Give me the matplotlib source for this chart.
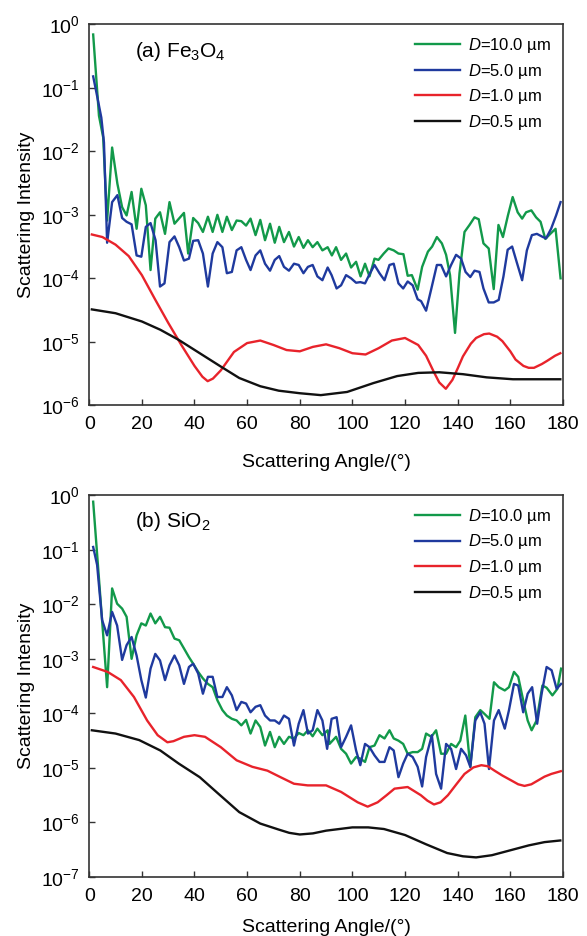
import numpy as np
import matplotlib
matplotlib.use("Agg")
import matplotlib.pyplot as plt
from matplotlib.ticker import LogLocator, NullLocator

plt.rcParams['font.family'] = ['Liberation Sans', 'DejaVu Sans']
plt.rcParams['mathtext.fontset'] = 'custom'
plt.rcParams['mathtext.rm'] = 'Liberation Sans'
plt.rcParams['mathtext.it'] = 'Liberation Sans:italic'

labels = [r'$\it{D}$=10.0 µm', r'$\it{D}$=5.0 µm', r'$\it{D}$=1.0 µm', r'$\it{D}$=0.5 µm']
colors = ['#12994a', '#1f3a9e', '#e8232b', '#111111']

# ---- (a) Fe3O4 : angle (deg) and log10(intensity) ----
fe_g_x = [1.5, 3.7, 5.3, 6.8, 8.7, 10.7, 12.5, 14.2, 16.1, 18, 19.8, 21.5, 23.3, 25.1, 26.9,
          28.8, 30.5, 32.4, 36, 37.6, 39.5, 41.4, 43.2, 45.1, 46.9, 48.7, 50.6, 52.3, 54.2,
          56, 57.8, 59.6, 61.3, 63.2, 65, 66.8, 68.7, 70.5, 72.2, 74, 75.9, 77.8, 79.6, 81.4,
          83.1, 84.9, 86.7, 88.6, 90.6, 92.2, 93.8, 95.7, 97.6, 99.5, 101.4, 103.1, 104.8,
          106.5, 108.4, 109.9, 111.9, 113.7, 115.7, 117.5, 119.4, 121, 122.6, 124.8, 126.5,
          128.7, 130.3, 132.1, 134, 135.6, 137.1, 139, 140.7, 142.6, 144.5, 146.4, 148,
          149.8, 151.8, 153.7, 155.5, 157.2, 159.1, 160.9, 162.8, 164.5, 166, 168, 169.8,
          171.5, 173.3, 175.2, 177.2, 179.1]
fe_g_y = [-0.16, -1.44, -1.78, -3.09, -1.94, -2.51, -2.88, -3.01, -2.64, -3.22, -2.59, -2.85,
          -3.87, -3.06, -2.96, -3.30, -2.80, -3.14, -2.97, -3.61, -3.05, -3.13, -3.27, -3.03,
          -3.27, -3.00, -3.27, -3.03, -3.24, -3.09, -3.10, -3.17, -3.06, -3.32, -3.08, -3.40,
          -3.14, -3.44, -3.19, -3.43, -3.27, -3.50, -3.35, -3.52, -3.40, -3.51, -3.43, -3.56,
          -3.51, -3.64, -3.51, -3.71, -3.61, -3.83, -3.74, -3.97, -3.77, -3.97, -3.69, -3.71,
          -3.61, -3.53, -3.56, -3.61, -3.62, -3.96, -3.95, -4.18, -3.82, -3.58, -3.50, -3.35,
          -3.45, -3.63, -3.95, -4.86, -3.92, -3.27, -3.16, -3.04, -3.07, -3.45, -3.53, -4.17,
          -3.16, -3.35, -3.01, -2.72, -2.96, -3.06, -2.96, -2.93, -3.04, -3.11, -3.38, -3.30,
          -3.22, -4.00]

fe_b_x = [1.5, 3.0, 4.6, 5.6, 6.8, 8.7, 10.7, 12.5, 14.2, 16.1, 18, 19.8, 21.5, 23.3, 25.2,
          26.9, 28.6, 30.5, 32.4, 34.2, 36, 37.9, 39.5, 41.4, 43.2, 45.1, 46.9, 48.7, 50.6,
          52.3, 54.2, 56, 57.8, 59.6, 61.3, 63.2, 65, 66.8, 68.7, 70.5, 72.2, 74, 75.9, 77.8,
          79.6, 81.4, 83.1, 84.9, 86.7, 88.6, 90.6, 92.1, 94, 95.7, 97.6, 99.5, 101.4, 103,
          104.8, 106.7, 108.4, 110.3, 112.2, 114.1, 115.7, 117.5, 119.3, 121, 122.9, 124.8,
          126.1, 128, 129.9, 132.1, 133.7, 135.6, 137.5, 139.4, 141.3, 143, 144.8, 146.4,
          148.3, 149.8, 151.8, 153.7, 155.6, 157.4, 159, 160.7, 162.4, 164.5, 166.3, 168.2,
          170.1, 172.4, 173.6, 175.5, 177.4, 179.1]
fe_b_y = [-0.82, -1.13, -1.47, -1.86, -3.44, -2.80, -2.69, -3.05, -3.11, -3.15, -3.64, -3.66,
          -3.19, -3.13, -3.40, -4.13, -4.08, -3.43, -3.34, -3.51, -3.72, -3.69, -3.41, -3.40,
          -3.61, -4.13, -3.61, -3.43, -3.51, -3.92, -3.90, -3.56, -3.51, -3.71, -3.87, -3.64,
          -3.56, -3.77, -3.88, -3.71, -3.65, -3.82, -3.88, -3.77, -3.79, -3.92, -3.82, -3.79,
          -3.97, -4.03, -3.83, -3.95, -4.16, -4.11, -3.95, -4.00, -4.07, -4.06, -4.08, -3.92,
          -3.79, -3.92, -4.03, -3.79, -3.77, -4.08, -4.16, -4.05, -4.11, -4.33, -4.36, -4.51,
          -4.18, -3.79, -3.79, -3.97, -3.79, -3.63, -3.69, -3.90, -3.98, -3.88, -3.90, -4.16,
          -4.38, -4.38, -4.34, -3.97, -3.55, -3.50, -3.74, -4.03, -3.56, -3.32, -3.30, -3.35,
          -3.37, -3.22, -3.01, -2.80]

fe_r_x = [1, 5, 10, 15, 20, 25, 30, 35, 40, 43, 45, 47, 50, 55, 60, 65, 70, 75, 80, 85, 90,
          95, 100, 105, 110, 115, 120, 125, 128, 131, 133, 135.5, 138, 140, 142, 145, 147,
          150, 152, 155, 157, 160, 162, 165, 167, 169, 172, 174, 177, 179]
fe_r_y = [-3.31, -3.35, -3.47, -3.65, -3.95, -4.33, -4.70, -5.05, -5.38, -5.55, -5.62, -5.58,
          -5.45, -5.16, -5.02, -4.98, -5.05, -5.13, -5.15, -5.08, -5.04, -5.10, -5.18, -5.20,
          -5.10, -4.98, -4.94, -5.05, -5.22, -5.48, -5.64, -5.74, -5.60, -5.42, -5.23, -5.03,
          -4.94, -4.88, -4.87, -4.92, -4.99, -5.15, -5.28, -5.38, -5.41, -5.41, -5.35, -5.30,
          -5.22, -5.18]

fe_k_x = [1, 10, 20, 27, 34, 42, 50, 57, 65, 72, 80, 88, 98, 108, 117, 125, 133, 142, 151,
          161, 170, 179]
fe_k_y = [-4.49, -4.55, -4.68, -4.81, -4.97, -5.18, -5.39, -5.57, -5.70, -5.77, -5.81, -5.84,
          -5.79, -5.65, -5.54, -5.49, -5.48, -5.51, -5.56, -5.59, -5.59, -5.59]

# ---- (b) SiO2 ----
si_g_x = [1.5, 6.8, 8.7, 10.6, 12.5, 14.2, 16.1, 18, 19.8, 21.5, 23.3, 25.1, 26.9, 28.8, 30.5,
          32.4, 34.2, 36, 37.9, 39.5, 41.4, 43.2, 45.1, 46.9, 48.7, 50.6, 52.3, 54.2, 56,
          57.8, 59.6, 61.3, 63.2, 65, 66.8, 68.7, 70.5, 72.2, 74, 75.9, 77.8, 79.6, 81.4,
          83.1, 84.9, 86.7, 88.6, 90.6, 91.3, 93.8, 95.7, 97.6, 99.5, 101.4, 103, 104.8,
          106.5, 108.4, 110.3, 112.2, 114.1, 115.7, 117.5, 119.3, 121, 122.9, 124.8, 126.5,
          128, 130, 131.8, 133.7, 135.6, 137.5, 139.4, 141, 142.9, 144.8, 146.7, 148.6,
          150.2, 152.1, 153.8, 155.6, 157.9, 159.5, 161.4, 163, 164.9, 166.6, 168.1, 170,
          172.2, 173.8, 176, 177.9, 179.3]
si_g_y = [-0.12, -3.52, -1.71, -1.99, -2.08, -2.23, -3.00, -2.57, -2.35, -2.39, -2.17, -2.35,
          -2.23, -2.42, -2.43, -2.63, -2.66, -2.81, -2.97, -3.09, -3.24, -3.36, -3.46, -3.52,
          -3.76, -3.94, -4.04, -4.10, -4.13, -4.22, -4.12, -4.37, -4.13, -4.25, -4.59, -4.34,
          -4.62, -4.43, -4.56, -4.43, -4.46, -4.36, -4.40, -4.31, -4.42, -4.28, -4.40, -4.31,
          -4.56, -4.43, -4.65, -4.74, -4.92, -4.80, -4.83, -4.89, -4.62, -4.59, -4.40, -4.46,
          -4.31, -4.46, -4.50, -4.56, -4.74, -4.71, -4.71, -4.65, -4.37, -4.43, -4.31, -4.74,
          -4.74, -4.56, -4.62, -4.50, -4.04, -4.98, -4.07, -3.94, -4.01, -4.10, -3.43, -3.52,
          -3.58, -3.52, -3.24, -3.33, -3.76, -4.13, -4.31, -4.13, -3.49, -3.53, -3.67, -3.55,
          -3.18]

si_b_x = [1.5, 3.0, 4.9, 6.8, 8.7, 10.6, 12.5, 14.2, 16.1, 18, 19.8, 21.5, 23.3, 25.1, 26.9,
          28.8, 30.5, 32.4, 34.2, 36, 37.9, 39.5, 41.4, 43.2, 45.1, 46.9, 48.7, 50.6, 52.3,
          54.2, 56, 57.8, 59.6, 61.3, 63.2, 65, 66.8, 68.7, 70.5, 72.2, 74, 75.9, 77.8, 79.6,
          81.4, 83.1, 84.9, 86.7, 88.6, 90.4, 92.1, 94, 95.7, 97.6, 99.5, 101.4, 103, 104.8,
          106.5, 108.4, 110.3, 112.2, 114.1, 115.7, 117.5, 119.3, 121, 122.9, 124.8, 126.5,
          128, 130.2, 131.8, 133.7, 135.6, 137.5, 139.4, 141.3, 143.2, 144.8, 146.7, 148.6,
          150.2, 151.9, 153.8, 155.6, 157.9, 159.5, 161.4, 163, 164.9, 166.6, 168.3, 170.2,
          171.9, 173.8, 175.7, 177.6, 179.3]
si_b_y = [-0.95, -1.28, -2.29, -2.57, -2.14, -2.39, -3.02, -2.75, -2.60, -2.94, -3.39, -3.71,
          -3.18, -2.91, -3.03, -3.39, -3.12, -2.94, -3.12, -3.46, -3.15, -3.09, -3.27, -3.64,
          -3.33, -3.33, -3.70, -3.70, -3.52, -3.67, -3.94, -3.79, -3.82, -3.98, -3.88, -3.85,
          -4.04, -4.13, -4.13, -4.19, -4.04, -4.10, -4.59, -4.19, -3.94, -4.37, -4.31, -3.94,
          -4.13, -4.65, -4.10, -4.07, -4.62, -4.43, -4.22, -4.68, -4.95, -4.56, -4.62, -4.77,
          -4.89, -4.89, -4.62, -4.68, -5.17, -4.92, -4.74, -4.80, -4.98, -5.34, -4.80, -4.40,
          -5.11, -5.38, -4.56, -4.65, -5.02, -4.65, -4.77, -4.98, -4.13, -3.98, -4.19, -5.02,
          -4.13, -3.94, -4.28, -3.94, -3.46, -3.49, -3.98, -3.64, -3.52, -4.19, -3.64, -3.15,
          -3.21, -3.55, -3.46]

si_r_x = [1.5, 7, 12, 17, 22, 26, 29.7, 32, 36, 40, 44, 50, 56, 62, 67.7, 72.7, 77.8, 83, 90,
          95.7, 99, 102, 105.8, 109.6, 113, 116, 121, 126, 128.5, 131, 133.5, 136.3, 139.5,
          142.6, 146, 149, 151.5, 154, 157, 160.4, 163, 165.4, 168, 170.5, 173, 175.6, 179.2]
si_r_y = [-3.15, -3.24, -3.39, -3.70, -4.13, -4.40, -4.53, -4.51, -4.43, -4.40, -4.43, -4.62,
          -4.86, -4.98, -5.05, -5.17, -5.29, -5.32, -5.32, -5.44, -5.54, -5.63, -5.71, -5.63,
          -5.50, -5.38, -5.35, -5.50, -5.60, -5.67, -5.63, -5.50, -5.30, -5.11, -4.99, -4.95,
          -4.97, -5.05, -5.14, -5.23, -5.30, -5.33, -5.30, -5.23, -5.16, -5.11, -5.06]

si_k_x = [1, 10, 19, 27, 34, 42, 49, 57, 65, 72, 76, 80, 85, 90, 100, 106, 112, 120, 128, 136,
          142, 147, 153, 160, 167, 173, 179]
si_k_y = [-4.31, -4.37, -4.49, -4.68, -4.92, -5.17, -5.47, -5.81, -6.02, -6.13, -6.19, -6.22,
          -6.20, -6.15, -6.09, -6.09, -6.12, -6.23, -6.40, -6.56, -6.62, -6.64, -6.60, -6.51,
          -6.42, -6.36, -6.33]

panels = [
    ('(a) Fe$_3$O$_4$', [(fe_g_x, fe_g_y), (fe_b_x, fe_b_y), (fe_r_x, fe_r_y), (fe_k_x, fe_k_y)], 1e-6, 15),
    ('(b) SiO$_2$', [(si_g_x, si_g_y), (si_b_x, si_b_y), (si_r_x, si_r_y), (si_k_x, si_k_y)], 1e-7, 10),
]
rects = [[0.152, 0.567, 0.807, 0.407], [0.152, 0.063, 0.807, 0.408]]

fig = plt.figure(figsize=(5.87, 9.36), dpi=100)
for (title, series, ymin, xpad), rect in zip(panels, rects):
    ax = fig.add_axes(rect)
    for (x, y), c, lab in zip(series, colors, labels):
        ax.plot(x, 10 ** np.array(y), color=c, lw=1.7, label=lab)
    ax.set_yscale('log')
    ax.set_xlim(0, 180)
    ax.set_ylim(ymin, 1)
    ax.set_xticks(range(0, 181, 20))
    ax.yaxis.set_major_locator(LogLocator(base=10, numticks=20))
    ax.yaxis.set_minor_locator(NullLocator())
    ax.tick_params(direction='in', length=4, width=1, labelsize=14, color='#333333')
    ax.tick_params(axis='y', pad=7)
    ax.tick_params(axis='x', pad=8)
    for s in ax.spines.values():
        s.set_color('#333333')
        s.set_linewidth(1.2)
    ax.set_xlabel('Scattering Angle/(°)', fontsize=14, labelpad=xpad)
    ax.set_ylabel('Scattering Intensity', fontsize=14, labelpad=4)
    ax.text(0.097, 0.93, title, transform=ax.transAxes, fontsize=15, va='center', ha='left')
    ax.legend(loc='upper right', frameon=False, fontsize=12, handlelength=2.7,
              handletextpad=0.45, labelspacing=0.4, borderaxespad=0,
              bbox_to_anchor=(0.988, 0.987))

fig.savefig('out.png', dpi=100)
